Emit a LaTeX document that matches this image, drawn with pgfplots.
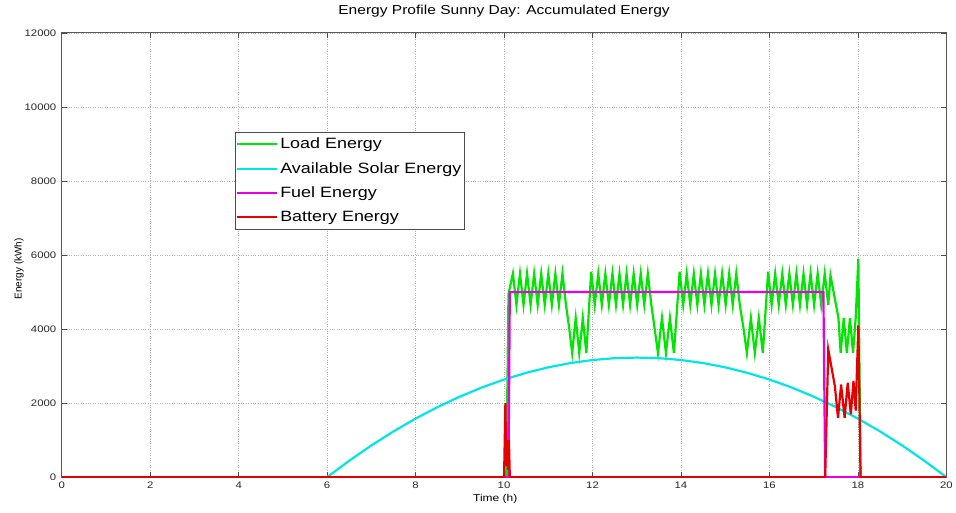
\documentclass[border=0pt]{standalone}
\usepackage{fontspec}
\setmainfont[FakeStretch=1.2]{Liberation Sans}
\newfontfamily\plainsans{Liberation Sans}
\usepackage{pgfplots}
\usepackage{pgfplotstable}
\pgfplotsset{compat=1.18}
\definecolor{mgreen}{RGB}{0,230,0}
\definecolor{mcyan}{RGB}{0,230,230}
\definecolor{mmag}{RGB}{230,0,230}
\definecolor{mred}{RGB}{230,0,0}

\pgfplotstableread{
t E
0 0
10.05 0
10.10 4950
10.20 5500
10.28 4650
10.36 5500
10.44 4650
10.52 5500
10.60 4650
10.68 5500
10.76 4650
10.84 5500
10.92 4650
11.00 5500
11.08 4650
11.16 5500
11.24 4650
11.32 5500
11.40 4650
11.47 4050
11.54 3350
11.62 4300
11.70 3350
11.78 4300
11.86 3350
11.97 5550
12.05 4650
12.13 5500
12.21 4650
12.29 5500
12.37 4650
12.45 5500
12.53 4650
12.61 5500
12.69 4650
12.77 5500
12.85 4650
12.93 5500
13.01 4650
13.09 5500
13.17 4650
13.25 5500
13.33 4650
13.40 4050
13.48 3350
13.57 4300
13.66 3350
13.75 4300
13.84 3350
13.97 5550
14.05 4650
14.13 5500
14.21 4650
14.29 5500
14.37 4650
14.45 5500
14.53 4650
14.61 5500
14.69 4650
14.77 5500
14.85 4650
14.93 5500
15.01 4650
15.09 5500
15.17 4650
15.25 5500
15.33 4650
15.41 4050
15.49 3350
15.58 4300
15.67 3350
15.76 4300
15.85 3350
15.97 5550
16.05 4650
16.13 5500
16.21 4650
16.29 5500
16.37 4650
16.45 5500
16.53 4650
16.61 5500
16.69 4650
16.77 5500
16.85 4650
16.93 5500
17.01 4650
17.09 5500
17.17 4650
17.25 5500
17.33 4650
17.38 5450
17.56 4300
17.61 3350
17.68 4300
17.75 3350
17.82 4300
17.89 3350
17.95 4300
18.01 5900
18.06 0
20 0
}\loaddata

\pgfplotstableread{
t E
0 0
6 0
6.5 445
7 857
7.5 1236
8 1582
8.5 1895
9 2175
9.5 2423
10 2637
10.5 2818
11 2966
11.5 3082
12 3164
12.5 3214
13 3230
13.5 3214
14 3164
14.5 3082
15 2966
15.5 2818
16 2637
16.5 2423
17 2175
17.5 1895
18 1582
18.5 1236
19 857
19.5 445
20 0
}\solardata

\pgfplotstableread{
t E
0 0
10.10 0
10.13 5000
17.22 5000
17.26 0
20 0
}\fueldata

\pgfplotstableread{
t E
0 0
10.00 0
10.03 2000
10.05 300
10.07 1000
10.09 200
10.11 1000
10.13 0
17.26 0
17.33 3450
17.48 2450
17.55 1600
17.62 2500
17.70 1600
17.77 2550
17.84 1700
17.90 2600
17.95 1800
18.01 4100
18.06 0
20 0
}\batterydata

\begin{document}
\begin{tikzpicture}
\begin{axis}[
  scale only axis,
  width=888pt, height=446pt,
  xmin=0, xmax=20, ymin=0, ymax=12000,
  xtick={0,2,...,20},
  ytick={0,2000,...,12000},
  scaled y ticks=false,
  /pgf/number format/.cd, 1000 sep={}, assume math mode=true,
  /pgfplots/.cd,
  tick align=inside,
  major tick length=5pt,
  tick style={black!70, line width=0.6pt},
  axis line style={black!65, line width=0.8pt},
  grid=major,
  major grid style={black!30, dotted, line width=0.6pt},
  ticklabel style={font=\fontsize{9.5}{11}\selectfont, text=black!85},
  xticklabel style={anchor=center, yshift=-8.5pt},
  yticklabel style={anchor=east, xshift=-2pt},
  title={Energy Profile Sunny Day: Accumulated Energy},
  title style={font=\fontsize{13}{15}\selectfont, at={(axis description cs:0.5,1)}, anchor=center, yshift=16pt},
  xlabel={Time (h)},
  xlabel style={font=\fontsize{10}{12}\selectfont, at={(axis description cs:0.49,0)}, anchor=center, yshift=-22pt},
  ylabel={\plainsans Energy (kWh)},
  ylabel style={font=\fontsize{10}{12}\selectfont, at={([xshift=-43pt]axis description cs:0,0.469)}, anchor=center},
  legend style={at={(axis description cs:0.196,0.776)}, anchor=north west,
    draw=black!70, line width=0.6pt, fill=white,
    font=\fontsize{15}{18}\selectfont, row sep=7.2pt,
    inner xsep=1pt, inner ysep=3pt,
    nodes={inner xsep=2pt, inner ysep=2.5pt}},
  legend cell align=left,
  legend image code/.code={\draw[#1, line width=2pt] (0pt,0pt) -- (40pt,0pt);},
]
\addplot[mgreen, line width=2.2pt] table[x=t,y=E] {\loaddata};
\addlegendentry{Load Energy}
\addplot[mcyan, line width=2.2pt] table[x=t,y=E] {\solardata};
\addlegendentry{Available Solar Energy}
\addplot[mmag, line width=2.2pt] table[x=t,y=E] {\fueldata};
\addlegendentry{Fuel Energy}
\addplot[mred, line width=2.2pt] table[x=t,y=E] {\batterydata};
\addlegendentry{Battery Energy}
\end{axis}
\path (-62pt,-35pt) rectangle (894pt,479pt);
\end{tikzpicture}
\end{document}
